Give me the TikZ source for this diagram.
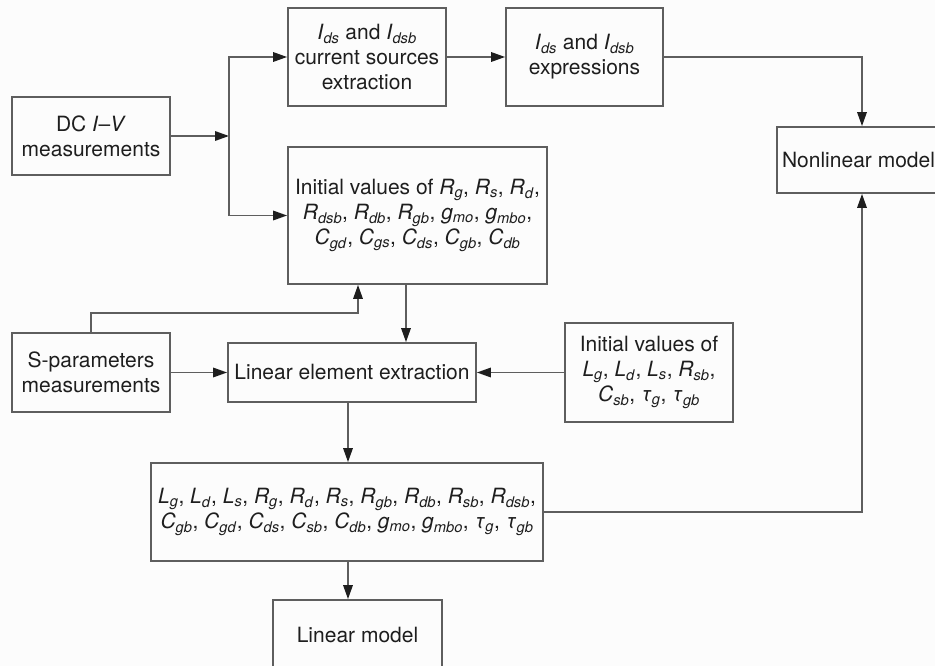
\documentclass[tikz,border=0pt]{standalone}
\usepackage{fontspec}
\setmainfont{TeX Gyre Heros}
\usetikzlibrary{arrows.meta}
\definecolor{linegray}{HTML}{5E5E5E}
\definecolor{inkdark}{HTML}{1E1E1E}
\definecolor{paper}{HTML}{FCFCFC}
% italic symbol with italic subscript
\newcommand\elemv[2]{\textit{#1}\textsubscript{\textit{#2}}}
\begin{document}
\begin{tikzpicture}[x=1pt,y=-1pt,
  blk/.style={draw=linegray, line width=1.8pt, inner sep=0pt, align=center,
    text=inkdark, font=\fontsize{21}{25}\selectfont},
  arr/.style={draw=linegray, line width=1.7pt,
    -{Triangle[length=14pt,width=9.5pt,fill=inkdark,color=inkdark]}},
  wire/.style={draw=linegray, line width=1.7pt}]
\useasboundingbox (0,0) rectangle (935,666);
\clip (0,0) rectangle (935,666);
\fill[paper] (0,0) rectangle (935,666);

% blocks
\node[blk, minimum width=158pt, minimum height=78pt] (dc) at (91,136)
  {DC \textit{I}–\textit{V}\\measurements};
\node[blk, minimum width=158pt, minimum height=98pt] (ids) at (367,57)
  {\elemv{I}{ds} and \elemv{I}{dsb}\\current sources\\extraction};
\node[blk, minimum width=157pt, minimum height=98pt] (expr) at (584.5,57)
  {\elemv{I}{ds} and \elemv{I}{dsb}\\expressions};
\node[blk, minimum width=170pt, minimum height=66pt] (nonlin) at (862,160)
  {Nonlinear model\hspace*{7pt}};
\node[blk, minimum width=259pt, minimum height=137pt] (init1) at (417.5,215.5)
  {Initial values of \elemv{R}{g}, \elemv{R}{s}, \elemv{R}{d},\\
   \elemv{R}{dsb}, \elemv{R}{db}, \elemv{R}{gb}, \elemv{g}{mo}, \elemv{g}{mbo},\\
   \elemv{C}{gd}, \elemv{C}{gs}, \elemv{C}{ds}, \elemv{C}{gb}, \elemv{C}{db}};
\node[blk, minimum width=158pt, minimum height=79pt] (spar) at (91,372.5)
  {S-parameters\\measurements};
\node[blk, minimum width=248pt, minimum height=59pt] (lin) at (352,372.5)
  {Linear element extraction};
\node[blk, minimum width=168pt, minimum height=99pt] (init2) at (649,372.5)
  {Initial values of\\
   \elemv{L}{g}, \elemv{L}{d}, \elemv{L}{s}, \elemv{R}{sb},\\
   \elemv{C}{sb}, \elemv{τ}{g}, \elemv{τ}{gb}};
\node[blk, minimum width=392pt, minimum height=98pt] (list) at (347,512)
  {\elemv{L}{g}, \elemv{L}{d}, \elemv{L}{s}, \elemv{R}{g}, \elemv{R}{d}, \elemv{R}{s}, \elemv{R}{gb}, \elemv{R}{db}, \elemv{R}{sb}, \elemv{R}{dsb},\\
   \elemv{C}{gb}, \elemv{C}{gd}, \elemv{C}{ds}, \elemv{C}{sb}, \elemv{C}{db}, \elemv{g}{mo}, \elemv{g}{mbo}, \elemv{τ}{g}, \elemv{τ}{gb}};
\node[blk, minimum width=169pt, minimum height=70pt] (linmod) at (357.5,635)
  {Linear model};

% routing points
\coordinate (split) at (229,136);
\coordinate (sup) at (358,313);
\coordinate (down1) at (406,0);
\coordinate (down2) at (348,0);

% connectors
\draw[arr] (dc.east) -- (split);
\draw[arr] (split) |- (ids.west);
\draw[arr] (split) |- (init1.west);
\draw[arr] (ids.east) -- (expr.west);
\draw[arr] (expr.east) -| (nonlin.north);
\draw[arr] (spar.north) |- (sup) -- (sup |- init1.south);
\draw[arr] (init1.south -| down1) -- (lin.north -| down1);
\draw[arr] (spar.east) -- (lin.west);
\draw[arr] (init2.west) -- (lin.east);
\draw[arr] (lin.south -| down2) -- (list.north -| down2);
\draw[arr] (list.south -| down2) -- (linmod.north -| down2);
\draw[arr] (list.east) -| (nonlin.south);
\end{tikzpicture}
\end{document}
